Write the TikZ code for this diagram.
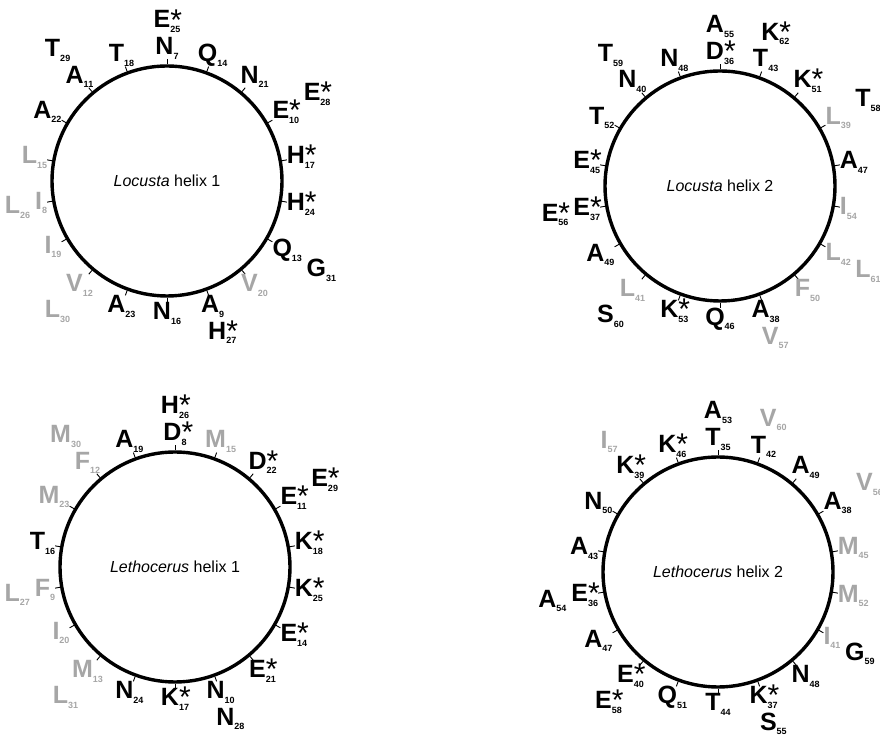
\documentclass[tikz,border=0pt]{standalone}
\usepackage{fontspec}
\setmainfont{Liberation Sans}
\usetikzlibrary{calc}
\tikzset{
  wheel/.style ={circle, draw, line width=3.4pt, minimum size=230pt, inner sep=0pt,
                 font=\fontsize{16}{16}\selectfont},
  rtick/.style ={line width=0.9pt},
  resid/.style ={font=\fontsize{25}{25}\selectfont\bfseries, inner sep=1pt, outer sep=0pt},
  hyd/.style   ={resid, text=black!35},
}
\newcommand{\rsub}[1]{\raisebox{-4.5pt}{\fontsize{9}{9}\selectfont #1}}
\newcommand{\rstar}{\rlap{\smash{\raisebox{-2pt}{\fontsize{30}{30}\selectfont\mdseries *}}}}
\newcommand{\rsd}[2]{#1\rsub{#2}}
\newcommand{\rsdc}[2]{#1\rstar\rsub{#2}}

\begin{document}
\begin{tikzpicture}[x=1pt,y=1pt]
  \useasboundingbox (0,0) rectangle (880,735);

  % Locusta helix 1
  \node[wheel] (loc1) at (167,554) {\textit{Locusta} helix 1};
  \foreach \ang in {10,30,...,350} \draw[rtick] (loc1.\ang) -- ++(\ang:5);
  \foreach \ang/\txt/\sty [evaluate=\ang as \opp using int(\ang+180-360*(\ang>180))] in {
      90/{\rsd{N}{7}}/resid, 190/{\rsd{I}{8}}/hyd, 290/{\rsd{A}{9}}/resid,
      30/{\rsdc{E}{10}}/resid, 130/{\rsd{A}{11}}/resid, 230/{\rsd{V}{12}}/hyd,
      330/{\rsd{Q}{13}}/resid, 70/{\rsd{Q}{14}}/resid, 170/{\rsd{L}{15}}/hyd,
      270/{\rsd{N}{16}}/resid, 10/{\rsdc{H}{17}}/resid, 110/{\rsd{T}{18}}/resid,
      210/{\rsd{I}{19}}/hyd, 310/{\rsd{V}{20}}/hyd, 50/{\rsd{N}{21}}/resid,
      150/{\rsd{A}{22}}/resid, 250/{\rsd{A}{23}}/resid, 350/{\rsdc{H}{24}}/resid}
    \node[\sty, anchor=\opp] (loc1-\ang) at ($(loc1.\ang)+(\ang:4)$) {\txt};
  \foreach \ang/\txt/\sty [evaluate=\ang as \opp using int(\ang+180-360*(\ang>180))] in {
      90/{\rsdc{E}{25}}/resid, 190/{\rsd{L}{26}}/hyd, 290/{\rsdc{H}{27}}/resid,
      30/{\rsdc{E}{28}}/resid, 130/{\rsd{T}{29}}/resid, 230/{\rsd{L}{30}}/hyd,
      330/{\rsd{G}{31}}/resid}
    \node[\sty, anchor=\opp] (loc1-o\ang) at ($(loc1-\ang.\ang)+(\ang:3)$) {\txt};

  % Locusta helix 2
  \node[wheel] (loc2) at (720,549) {\textit{Locusta} helix 2};
  \foreach \ang in {10,30,...,350} \draw[rtick] (loc2.\ang) -- ++(\ang:5);
  \foreach \ang/\txt/\sty [evaluate=\ang as \opp using int(\ang+180-360*(\ang>180))] in {
      90/{\rsdc{D}{36}}/resid, 190/{\rsdc{E}{37}}/resid, 290/{\rsd{A}{38}}/resid,
      30/{\rsd{L}{39}}/hyd, 130/{\rsd{N}{40}}/resid, 230/{\rsd{L}{41}}/hyd,
      330/{\rsd{L}{42}}/hyd, 70/{\rsd{T}{43}}/resid, 170/{\rsdc{E}{45}}/resid,
      270/{\rsd{Q}{46}}/resid, 10/{\rsd{A}{47}}/resid, 110/{\rsd{N}{48}}/resid,
      210/{\rsd{A}{49}}/resid, 310/{\rsd{F}{50}}/hyd, 50/{\rsdc{K}{51}}/resid,
      150/{\rsd{T}{52}}/resid, 250/{\rsdc{K}{53}}/resid, 350/{\rsd{I}{54}}/hyd}
    \node[\sty, anchor=\opp] (loc2-\ang) at ($(loc2.\ang)+(\ang:4)$) {\txt};
  \foreach \ang/\txt/\sty [evaluate=\ang as \opp using int(\ang+180-360*(\ang>180))] in {
      90/{\rsd{A}{55}}/resid, 190/{\rsdc{E}{56}}/resid, 290/{\rsd{V}{57}}/hyd,
      30/{\rsd{T}{58}}/resid, 130/{\rsd{T}{59}}/resid, 230/{\rsd{S}{60}}/resid,
      330/{\rsd{L}{61}}/hyd, 70/{\rsdc{K}{62}}/resid}
    \node[\sty, anchor=\opp] (loc2-o\ang) at ($(loc2-\ang.\ang)+(\ang:3)$) {\txt};

  % Lethocerus helix 1
  \node[wheel] (let1) at (175,168) {\textit{Lethocerus} helix 1};
  \foreach \ang in {10,30,...,350} \draw[rtick] (let1.\ang) -- ++(\ang:5);
  \foreach \ang/\txt/\sty [evaluate=\ang as \opp using int(\ang+180-360*(\ang>180))] in {
      90/{\rsdc{D}{8}}/resid, 190/{\rsd{F}{9}}/hyd, 290/{\rsd{N}{10}}/resid,
      30/{\rsdc{E}{11}}/resid, 130/{\rsd{F}{12}}/hyd, 230/{\rsd{M}{13}}/hyd,
      330/{\rsdc{E}{14}}/resid, 70/{\rsd{M}{15}}/hyd, 170/{\rsd{T}{16}}/resid,
      270/{\rsdc{K}{17}}/resid, 10/{\rsdc{K}{18}}/resid, 110/{\rsd{A}{19}}/resid,
      210/{\rsd{I}{20}}/hyd, 310/{\rsdc{E}{21}}/resid, 50/{\rsdc{D}{22}}/resid,
      150/{\rsd{M}{23}}/hyd, 250/{\rsd{N}{24}}/resid, 350/{\rsdc{K}{25}}/resid}
    \node[\sty, anchor=\opp] (let1-\ang) at ($(let1.\ang)+(\ang:4)$) {\txt};
  \foreach \ang/\txt/\sty [evaluate=\ang as \opp using int(\ang+180-360*(\ang>180))] in {
      90/{\rsdc{H}{26}}/resid, 190/{\rsd{L}{27}}/hyd, 290/{\rsd{N}{28}}/resid,
      30/{\rsdc{E}{29}}/resid, 130/{\rsd{M}{30}}/hyd, 230/{\rsd{L}{31}}/hyd}
    \node[\sty, anchor=\opp] (let1-o\ang) at ($(let1-\ang.\ang)+(\ang:3)$) {\txt};

  % Lethocerus helix 2
  \node[wheel] (let2) at (718,163) {\textit{Lethocerus} helix 2};
  \foreach \ang in {10,30,...,350} \draw[rtick] (let2.\ang) -- ++(\ang:5);
  \foreach \ang/\txt/\sty [evaluate=\ang as \opp using int(\ang+180-360*(\ang>180))] in {
      90/{\rsd{T}{35}}/resid, 190/{\rsdc{E}{36}}/resid, 290/{\rsdc{K}{37}}/resid,
      30/{\rsd{A}{38}}/resid, 130/{\rsdc{K}{39}}/resid, 230/{\rsdc{E}{40}}/resid,
      330/{\rsd{I}{41}}/hyd, 70/{\rsd{T}{42}}/resid, 170/{\rsd{A}{43}}/resid,
      270/{\rsd{T}{44}}/resid, 10/{\rsd{M}{45}}/hyd, 110/{\rsdc{K}{46}}/resid,
      210/{\rsd{A}{47}}/resid, 310/{\rsd{N}{48}}/resid, 50/{\rsd{A}{49}}/resid,
      150/{\rsd{N}{50}}/resid, 250/{\rsd{Q}{51}}/resid, 350/{\rsd{M}{52}}/hyd}
    \node[\sty, anchor=\opp] (let2-\ang) at ($(let2.\ang)+(\ang:4)$) {\txt};
  \foreach \ang/\txt/\sty [evaluate=\ang as \opp using int(\ang+180-360*(\ang>180))] in {
      90/{\rsd{A}{53}}/resid, 190/{\rsd{A}{54}}/resid, 290/{\rsd{S}{55}}/resid,
      30/{\rsd{V}{56}}/hyd, 130/{\rsd{I}{57}}/hyd, 230/{\rsdc{E}{58}}/resid,
      330/{\rsd{G}{59}}/resid, 70/{\rsd{V}{60}}/hyd}
    \node[\sty, anchor=\opp] (let2-o\ang) at ($(let2-\ang.\ang)+(\ang:3)$) {\txt};
\end{tikzpicture}
\end{document}
